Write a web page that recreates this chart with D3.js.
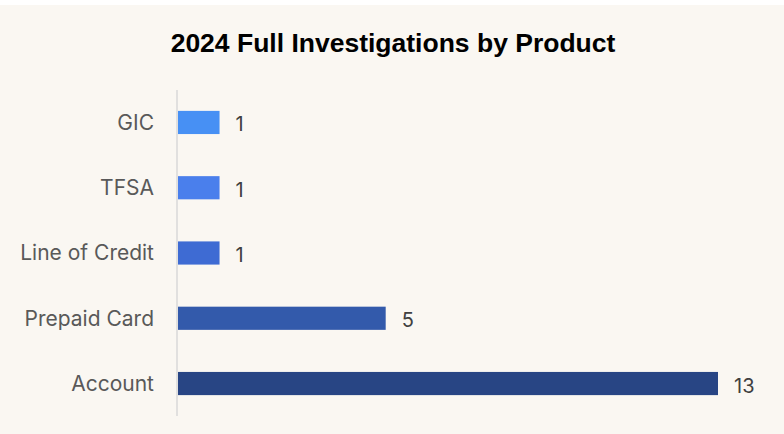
<!DOCTYPE html>
<html>
<head>
<meta charset="utf-8">
<script src="https://cdn.jsdelivr.net/npm/d3@7"></script>
<style>
  body { margin: 0; background: #ffffff; }
  svg { display: block; }
</style>
</head>
<body>
<svg id="chart" width="784" height="434"></svg>
<script>
var products = ["GIC", "TFSA", "Line of Credit", "Prepaid Card", "Account"];
var counts = [1, 1, 1, 5, 13];
var barColors = ["#4790f4", "#4a7fec", "#3e6bd3", "#335aab", "#284584"];

var svg = d3.select("#chart");

svg.append("rect")
	.attr("x", 0).attr("y", 5)
	.attr("width", 784).attr("height", 429)
	.attr("fill", "#faf7f2");

svg.append("text")
	.attr("x", 393).attr("y", 52)
	.attr("text-anchor", "middle")
	.attr("font-family", "'Liberation Sans', Arial, sans-serif")
	.attr("font-weight", "bold")
	.attr("font-size", 26.5)
	.attr("fill", "#000")
	.text("2024 Full Investigations  by Product");

var x = d3.scaleLinear().domain([0, 13]).range([178, 718]);
var y = d3.scaleBand().domain(products).range([90, 416]).paddingInner(0.645).paddingOuter(0.32);

// axis line
svg.append("line")
	.attr("x1", 177).attr("x2", 177)
	.attr("y1", 90).attr("y2", 416)
	.attr("stroke", "#d9d9d9").attr("stroke-width", 1.5);

var rows = products.map(function(p, i){ return {name:p, value:counts[i], color:barColors[i]}; });

svg.selectAll("rect.bar")
	.data(rows)
	.enter()
	.append("rect")
	.attr("class", "bar")
	.attr("x", x(0))
	.attr("y", function(d){ return y(d.name); })
	.attr("width", function(d){ return x(d.value) - x(0); })
	.attr("height", y.bandwidth())
	.attr("fill", function(d){ return d.color; });

svg.selectAll("text.cat")
	.data(rows)
	.enter()
	.append("text")
	.attr("class", "cat")
	.attr("x", 154)
	.attr("y", function(d){ return y(d.name) + y.bandwidth() / 2; })
	.attr("dy", "0.35em")
	.attr("text-anchor", "end")
	.attr("font-family", "Inter, 'Open Sans', sans-serif")
	.attr("font-size", 21)
	.attr("fill", "#595959")
	.text(function(d){ return d.name; });

svg.selectAll("text.val")
	.data(rows)
	.enter()
	.append("text")
	.attr("class", "val")
	.attr("x", function(d){ return x(d.value) + 16; })
	.attr("y", function(d){ return y(d.name) + y.bandwidth() / 2 + 2; })
	.attr("dy", "0.35em")
	.attr("font-family", "Inter, 'Open Sans', sans-serif")
	.attr("font-size", 20)
	.attr("fill", "#404040")
	.text(function(d){ return d.value; });
</script>
</body>
</html>
